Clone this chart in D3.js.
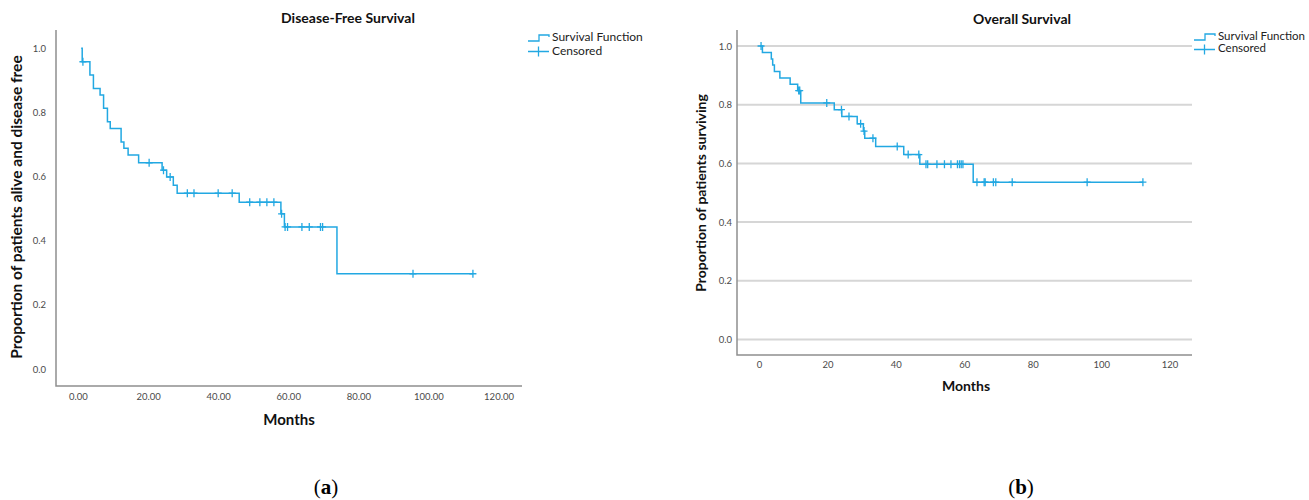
<!DOCTYPE html>
<html>
<head>
<meta charset="utf-8">
<script src="https://cdn.jsdelivr.net/npm/d3@7"></script>
<style>
  body { margin: 0; background: #fff; }
  svg { display: block; }
</style>
</head>
<body>
<div id="chart"></div>
<script>
// Disease-free survival: step times (months) and survival after each step
var dfsStart = 0.9;
var dfsEnd = 112.7;
var dfsEventTimes = [1.2, 3.4, 4.4, 6.3, 7.3, 8.4, 9.2, 12.3, 13.1, 14.3, 17.3, 24.0, 25.3, 27.2, 28.3, 46.0, 57.9, 58.9, 73.9];
var dfsEventValues = [0.958, 0.917, 0.875, 0.854, 0.813, 0.771, 0.750, 0.708, 0.688, 0.667, 0.643, 0.620, 0.599, 0.573, 0.548, 0.520, 0.484, 0.443, 0.297];
var dfsCensorTimes = [1.4, 20.3, 24.4, 26.3, 31.2, 33.1, 40.0, 44.0, 49.0, 51.9, 53.9, 55.9, 58.1, 59.1, 59.8, 63.9, 66.0, 69.2, 69.8, 95.6, 112.7];

// Overall survival
var osStart = 0.3;
var osEnd = 112.2;
var osEventTimes = [1.0, 3.6, 4.0, 4.5, 6.1, 9.1, 11.3, 12.2, 22.0, 24.2, 28.7, 30.5, 30.9, 34.1, 42.3, 47.0, 62.6];
var osEventValues = [0.978, 0.956, 0.935, 0.913, 0.891, 0.870, 0.848, 0.806, 0.783, 0.760, 0.735, 0.710, 0.686, 0.658, 0.630, 0.597, 0.536];
var osCensorTimes = [0.6, 11.6, 11.9, 19.8, 24.1, 26.3, 29.7, 30.7, 33.3, 40.4, 43.6, 46.7, 48.8, 49.3, 52.0, 54.2, 56.1, 58.0, 58.6, 59.1, 59.6, 63.7, 65.8, 66.1, 68.5, 69.2, 74.0, 95.9, 112.2];

var xTicks = [0, 20, 40, 60, 80, 100, 120];
var yTicks = [0, 0.2, 0.4, 0.6, 0.8, 1.0];
var legendLabels = ["Survival Function", "Censored"];

var blue = "#22a8e2";

var svg = d3.select("#chart").append("svg")
    .attr("width", 1309)
    .attr("height", 500);

function stepValue(times, values, t) {
  var v = 1;
  for (var i = 0; i < times.length; i++) {
    if (times[i] <= t) v = values[i];
  }
  return v;
}

function drawPanel(p) {
  var g = svg.append("g");

  var x = d3.scaleLinear().domain([0, 120]).range(p.xRange);
  var y = d3.scaleLinear().domain([0, 1]).range(p.yRange);

  if (p.grid) {
    g.selectAll(".grid")
      .data(yTicks)
      .enter()
      .append("line")
      .attr("x1", p.box[0]).attr("x2", p.box[1])
      .attr("y1", function(d) { return y(d); })
      .attr("y2", function(d) { return y(d); })
      .attr("stroke", "#d6d6d6")
      .attr("stroke-width", 2);
  }

  // axis lines
  g.append("path")
    .attr("d", "M" + p.box[0] + "," + p.box[2] + "V" + p.box[3] + "H" + p.box[1])
    .attr("fill", "none")
    .attr("stroke", "#8f8f8f")
    .attr("stroke-width", 1.5);

  var xAxis = d3.axisBottom(x)
    .tickValues(xTicks)
    .tickSize(0)
    .tickPadding(p.xPad)
    .tickFormat(p.xFormat);
  var gx = g.append("g")
    .attr("transform", "translate(0," + p.box[3] + ")")
    .call(xAxis);
  gx.select(".domain").remove();
  gx.selectAll("text")
    .attr("font-family", "Lato, 'Open Sans', sans-serif")
    .attr("font-size", p.tickFont)
    .attr("fill", "#4a4a4a");

  var yAxis = d3.axisLeft(y)
    .tickValues(yTicks)
    .tickSize(0)
    .tickPadding(p.yPad)
    .tickFormat(d3.format(".1f"));
  var gy = g.append("g")
    .attr("transform", "translate(" + p.box[0] + ",0)")
    .call(yAxis);
  gy.select(".domain").remove();
  gy.selectAll("text")
    .attr("font-family", "Lato, 'Open Sans', sans-serif")
    .attr("font-size", p.tickFont)
    .attr("fill", "#4a4a4a");

  // survival step line
  var pts = [[p.start, 1]];
  for (var i = 0; i < p.eventTimes.length; i++) {
    pts.push([p.eventTimes[i], p.eventValues[i]]);
  }
  pts.push([p.end, p.eventValues[p.eventValues.length - 1]]);

  var line = d3.line()
    .x(function(d) { return x(d[0]); })
    .y(function(d) { return y(d[1]); })
    .curve(d3.curveStepAfter);

  g.append("path")
    .datum(pts)
    .attr("d", line)
    .attr("fill", "none")
    .attr("stroke", blue)
    .attr("stroke-width", 1.5);

  // censor marks
  var cens = p.censorTimes.map(function(t) {
    return [t, stepValue(p.eventTimes, p.eventValues, t)];
  });
  g.selectAll(".cens")
    .data(cens)
    .enter()
    .append("path")
    .attr("d", function(d) {
      var cx = x(d[0]), cy = y(d[1]);
      return "M" + (cx - 3.5) + "," + cy + "H" + (cx + 3.5) +
             "M" + cx + "," + (cy - 4) + "V" + (cy + 4);
    })
    .attr("stroke", blue)
    .attr("stroke-width", 1.3)
    .attr("fill", "none");

  // titles
  g.append("text")
    .attr("x", p.titlePos[0]).attr("y", p.titlePos[1])
    .attr("text-anchor", "middle")
    .attr("dominant-baseline", "middle")
    .attr("font-family", "Lato, sans-serif")
    .attr("font-weight", "bold")
    .attr("font-size", 14)
    .attr("fill", "#111")
    .text(p.title);

  g.append("text")
    .attr("x", p.xLabelPos[0]).attr("y", p.xLabelPos[1])
    .attr("text-anchor", "middle")
    .attr("dominant-baseline", "middle")
    .attr("font-family", "Lato, sans-serif")
    .attr("font-weight", "bold")
    .attr("font-size", p.labelFont)
    .attr("fill", "#111")
    .text("Months");

  g.append("text")
    .attr("transform", "translate(" + p.yLabelPos[0] + "," + p.yLabelPos[1] + ") rotate(-90)")
    .attr("text-anchor", "middle")
    .attr("dominant-baseline", "middle")
    .attr("font-family", "Lato, sans-serif")
    .attr("font-weight", "bold")
    .attr("font-size", p.yLabelFont)
    .attr("fill", "#111")
    .text(p.yLabel);

  // legend
  var lx = p.legendPos[0], ly = p.legendPos[1], gap = p.legendGap;
  g.append("path")
    .attr("d", "M" + lx + "," + (ly + 3) + "H" + (lx + 11) + "V" + (ly - 3) +
               "H" + (lx + 21) + "V" + (ly - 1))
    .attr("fill", "none")
    .attr("stroke", blue)
    .attr("stroke-width", 1.3);
  g.append("path")
    .attr("d", "M" + lx + "," + (ly + gap) + "H" + (lx + 21) +
               "M" + (lx + 10.5) + "," + (ly + gap - 5) + "V" + (ly + gap + 5))
    .attr("fill", "none")
    .attr("stroke", blue)
    .attr("stroke-width", 1.3);
  g.selectAll(".leg")
    .data(legendLabels)
    .enter()
    .append("text")
    .attr("x", lx + 24)
    .attr("y", function(d, i) { return ly + i * gap; })
    .attr("dominant-baseline", "middle")
    .attr("font-family", "Lato, sans-serif")
    .attr("font-size", p.legendFont)
    .attr("fill", "#222")
    .text(function(d) { return d; });

  // panel caption
  var cap = svg.append("text")
    .attr("x", p.captionX).attr("y", 494)
    .attr("text-anchor", "middle")
    .attr("font-family", "'Liberation Serif', serif")
    .attr("font-size", 21)
    .attr("fill", "#000");
  cap.append("tspan").text("(");
  cap.append("tspan").attr("font-weight", "bold").text(p.caption);
  cap.append("tspan").text(")");
}

drawPanel({
  box: [56, 522, 30, 386],
  xRange: [78, 498.5],
  yRange: [369, 48.3],
  grid: false,
  xPad: 7,
  yPad: 10,
  xFormat: d3.format(".2f"),
  tickFont: 9.5,
  start: dfsStart, end: dfsEnd,
  eventTimes: dfsEventTimes, eventValues: dfsEventValues, censorTimes: dfsCensorTimes,
  title: "Disease-Free Survival",
  titlePos: [348, 19],
  xLabelPos: [289, 421],
  labelFont: 15,
  yLabel: "Proportion of patients alive and disease free",
  yLabelPos: [18, 207],
  yLabelFont: 15.5,
  legendPos: [528, 38],
  legendGap: 13.5,
  legendFont: 12,
  caption: "a",
  captionX: 326
});

drawPanel({
  box: [737, 1192, 30, 355],
  xRange: [759, 1169.6],
  yRange: [339.5, 46],
  grid: true,
  xPad: 6,
  yPad: 5,
  xFormat: d3.format("d"),
  tickFont: 9.5,
  start: osStart, end: osEnd,
  eventTimes: osEventTimes, eventValues: osEventValues, censorTimes: osCensorTimes,
  title: "Overall Survival",
  titlePos: [1022, 20],
  xLabelPos: [966, 387],
  labelFont: 14,
  yLabel: "Proportion of patients surviving",
  yLabelPos: [702, 193],
  yLabelFont: 14,
  legendPos: [1194, 37],
  legendGap: 12.5,
  legendFont: 11.5,
  caption: "b",
  captionX: 1021
});
</script>
</body>
</html>
